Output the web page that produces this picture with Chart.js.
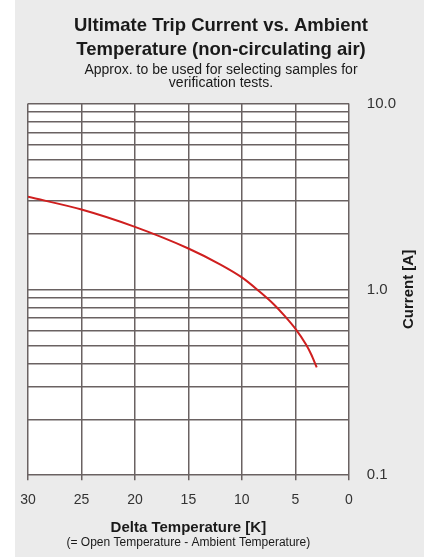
<!DOCTYPE html>
<html>
<head>
<meta charset="utf-8">
<script src="https://cdn.jsdelivr.net/npm/chart.js@4.4.1/dist/chart.umd.min.js"></script>
<style>
  html, body { margin: 0; padding: 0; background: #ffffff; }
  canvas { display: block; }
</style>
</head>
<body>
<canvas id="myChart" width="435" height="557"></canvas>
<script>
// values
const deltaTemp = [30, 25, 20, 15, 12, 10, 8.5, 7, 6, 5, 4, 3.5, 3];
const tripCurrent = [3.15, 2.69, 2.17, 1.66, 1.36, 1.16, 0.99, 0.83, 0.72, 0.615, 0.505, 0.445, 0.38];

const yGridValues = [0.1, 0.2, 0.3, 0.4, 0.5, 0.6, 0.7, 0.8, 0.9, 1, 2, 3, 4, 5, 6, 7, 8, 9, 10];
const yLabelValues = [0.1, 1, 10];

const titleLines = ['Ultimate Trip Current vs. Ambient', 'Temperature (non-circulating air)'];
const subtitleLines = ['Approx. to be used for selecting samples for', 'verification tests.'];
const xTitle = 'Delta Temperature [K]';
const xNote = '(= Open Temperature - Ambient Temperature)';
const yTitle = 'Current [A]';

const FONT = "'Liberation Sans', Arial, sans-serif";
const gridColor = '#6a6262';

const backdrop = {
    id: 'backdrop',
    beforeDraw(chart) {
        const { ctx, chartArea } = chart;
        ctx.save();
        ctx.fillStyle = '#ebebeb';
        ctx.fillRect(15, 0, 409, chart.height);
        ctx.fillStyle = '#ffffff';
        ctx.fillRect(chartArea.left, chartArea.top, chartArea.right - chartArea.left, chartArea.bottom - chartArea.top);
        ctx.restore();
    },
    afterDraw(chart) {
        const { ctx, chartArea } = chart;
        ctx.save();
        ctx.fillStyle = '#1a1a1a';
        ctx.textAlign = 'center';
        ctx.textBaseline = 'middle';
        ctx.font = '12px ' + FONT;
        ctx.fillText(xNote, (chartArea.left + chartArea.right) / 2, 543);
        ctx.translate(409, (chartArea.top + chartArea.bottom) / 2);
        ctx.rotate(-Math.PI / 2);
        ctx.font = 'bold 15px ' + FONT;
        ctx.fillText(yTitle, 0, 0);
        ctx.restore();
    }
};

const ctx = document.querySelector('#myChart');
const chart = new Chart(ctx, {
    type: 'line',
    data: {
        datasets: [
            {
                data: deltaTemp.map((t, i) => ({ x: t, y: tripCurrent[i] })),
                borderColor: '#cf1f1f',
                borderWidth: 2,
                pointRadius: 0,
                cubicInterpolationMode: 'monotone',
                fill: false,
            },
        ],
    },
    options: {
        responsive: false,
        animation: false,
        devicePixelRatio: 1,
        layout: {
            padding: { left: 28, right: 21, top: 0, bottom: 20 }
        },
        scales: {
            x: {
                type: 'linear',
                min: 0,
                max: 30,
                reverse: true,
                border: { display: false },
                grid: {
                    color: gridColor,
                    lineWidth: 1.5,
                    drawTicks: true,
                    tickLength: 5,
                    tickColor: gridColor,
                },
                ticks: {
                    stepSize: 5,
                    padding: 12,
                    color: '#333333',
                    font: { family: FONT, size: 14 },
                },
                title: {
                    display: true,
                    text: xTitle,
                    color: '#1a1a1a',
                    font: { family: FONT, size: 15, weight: 'bold' },
                    padding: { top: -2, bottom: 0 },
                }
            },
            y: {
                type: 'logarithmic',
                position: 'right',
                min: 0.1,
                max: 10,
                border: { display: false },
                afterBuildTicks: (scale) => {
                    scale.ticks = yGridValues.map(v => ({ value: v }));
                },
                grid: {
                    color: gridColor,
                    lineWidth: 1.5,
                    drawTicks: false,
                },
                ticks: {
                    autoSkip: false,
                    padding: 18,
                    color: '#333333',
                    font: { family: FONT, size: 15 },
                    callback: (value) => yLabelValues.includes(value) ? value.toFixed(1) : '',
                },
                title: { display: false }
            }
        },
        plugins: {
            legend: { display: false },
            tooltip: { enabled: false },
            title: {
                display: true,
                text: titleLines,
                color: '#1a1a1a',
                font: { family: FONT, size: 18.5, weight: 'bold', lineHeight: '24px' },
                padding: { top: 13.5, bottom: 1 },
            },
            subtitle: {
                display: true,
                text: subtitleLines,
                color: '#1a1a1a',
                font: { family: FONT, size: 14, lineHeight: '13.3px' },
                padding: { top: 0.5, bottom: 14 },
            }
        }
    },
    plugins: [backdrop]
});
</script>
</body>
</html>
